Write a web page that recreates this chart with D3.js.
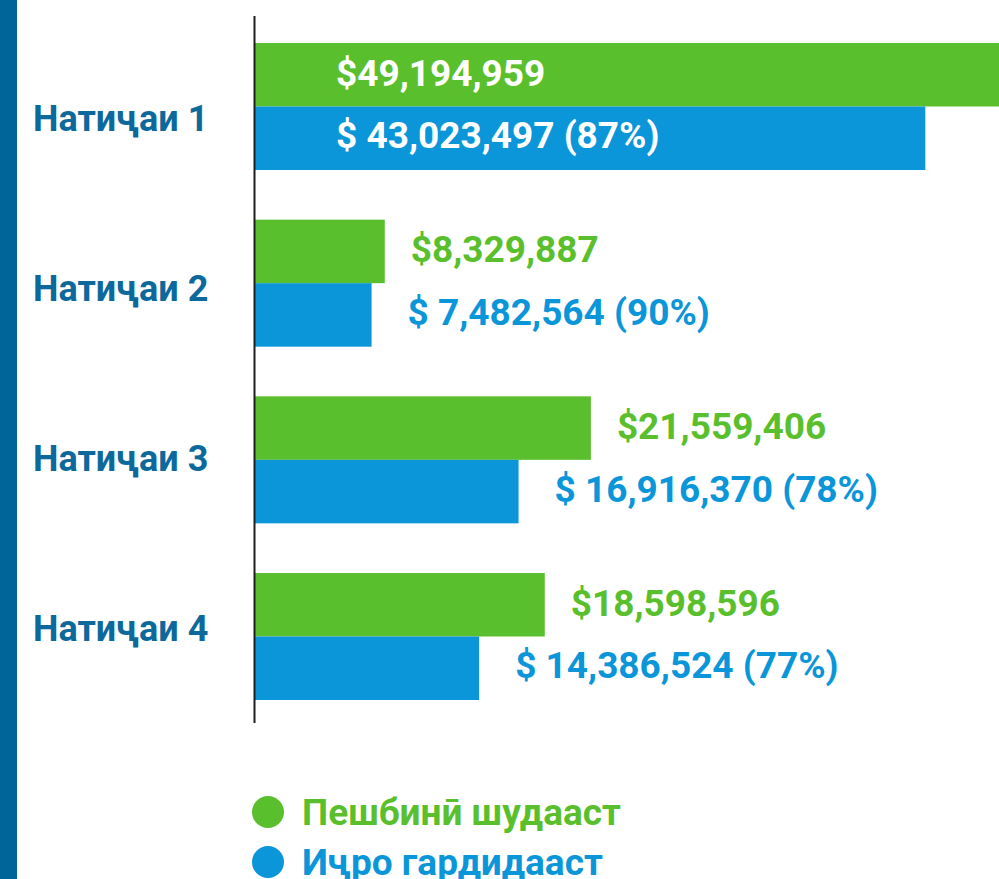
<!DOCTYPE html>
<html>
<head>
<meta charset="utf-8">
<script src="https://cdn.jsdelivr.net/npm/d3@7"></script>
<style>
  html, body { margin: 0; padding: 0; background: #fff; }
  svg { display: block; font-family: Roboto, "Noto Sans", sans-serif; font-weight: 700; }
</style>
</head>
<body>
<div id="canvas"></div>
<script>
// data
var categories = ['Натиҷаи 1', 'Натиҷаи 2', 'Натиҷаи 3', 'Натиҷаи 4'];
var planned = [49194959, 8329887, 21559406, 18598596];   // Пешбинӣ шудааст
var executed = [43023497, 7482564, 16916370, 14386524];  // Иҷро гардидааст
var seriesNames = ['Пешбинӣ шудааст', 'Иҷро гардидааст'];

var W = 999, H = 879;
var green = '#5abf2c', blue = '#0a96d8', navy = '#0d699c';

var svg = d3.select('#canvas').append('svg')
    .attr('width', W).attr('height', H);

// left strip
svg.append('rect').attr('x', 0).attr('y', 0).attr('width', 17).attr('height', H).attr('fill', '#006699');

// scales
var x = d3.scaleLinear().domain([0, 50e6]).range([255, 1034]);
var y = d3.scaleBand().domain(categories).range([43, 700]).paddingInner(0.281).paddingOuter(0);
var ySub = d3.scaleBand().domain(['planned', 'executed']).range([0, y.bandwidth()]);
var yLabel = d3.scalePoint().domain(categories).range([118, 628]);

var fmt = d3.format(',');
var rows = categories.map(function(c, i){
    return {cat: c, planned: planned[i], executed: executed[i]};
});

var groups = svg.selectAll('.group').data(rows).enter()
    .append('g').attr('class', 'group')
    .attr('transform', function(d){ return 'translate(0,' + y(d.cat) + ')'; });

groups.append('rect')
    .attr('x', x(0)).attr('y', ySub('planned'))
    .attr('width', function(d){ return x(d.planned) - x(0); })
    .attr('height', ySub.bandwidth())
    .attr('fill', green);

groups.append('rect')
    .attr('x', x(0)).attr('y', ySub('executed'))
    .attr('width', function(d){ return x(d.executed) - x(0); })
    .attr('height', ySub.bandwidth())
    .attr('fill', blue);

// value labels: outside the bar, or inside when the bar runs off the page
function inside(v, off){ return x(v) + off + 340 > W; }
function labelX(v, off){ return inside(v, off) ? x(0) + 81 : x(v) + off; }

groups.append('text')
    .attr('x', function(d){ return labelX(d.planned, 26); })
    .attr('y', ySub('planned') + ySub.bandwidth() / 2 - 2)
    .attr('dy', '0.35em')
    .attr('font-size', 37)
    .attr('fill', function(d){ return inside(d.planned, 26) ? '#fff' : green; })
    .text(function(d){ return '$' + fmt(d.planned); });

groups.append('text')
    .attr('x', function(d){ return labelX(d.executed, 36); })
    .attr('y', ySub('executed') + ySub.bandwidth() / 2 - 3)
    .attr('dy', '0.35em')
    .attr('font-size', 37)
    .attr('fill', function(d){ return inside(d.executed, 36) || inside(d.planned, 26) ? '#fff' : blue; })
    .text(function(d){ return '$ ' + fmt(d.executed) + ' (' + Math.round(d.executed / d.planned * 100) + '%)'; });

// category labels
svg.selectAll('.cat').data(categories).enter()
    .append('text').attr('class', 'cat')
    .attr('x', 33).attr('y', function(d){ return yLabel(d); })
    .attr('dy', '0.35em')
    .attr('font-size', 36)
    .attr('fill', navy)
    .text(function(d){ return d; });

// axis line
svg.append('line')
    .attr('x1', 254.5).attr('x2', 254.5).attr('y1', 16).attr('y2', 723)
    .attr('stroke', '#1e1e1e').attr('stroke-width', 2);

// legend
var legend = svg.selectAll('.legend').data(seriesNames).enter()
    .append('g').attr('class', 'legend')
    .attr('transform', function(d, i){ return 'translate(268,' + (812 + i * 50) + ')'; });

legend.append('circle').attr('r', 16)
    .attr('fill', function(d, i){ return i ? blue : green; });

legend.append('text')
    .attr('x', 34).attr('dy', '0.35em')
    .attr('font-size', 37)
    .attr('fill', function(d, i){ return i ? blue : green; })
    .text(function(d){ return d; });
</script>
</body>
</html>
